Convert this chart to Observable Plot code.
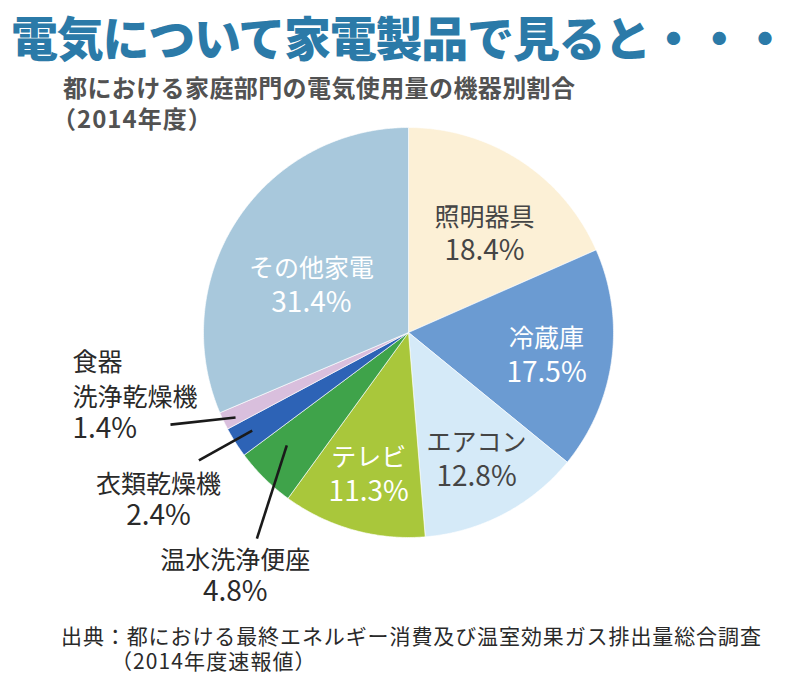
<!DOCTYPE html>
<html lang="ja">
<head>
<meta charset="utf-8">
<script src="https://cdn.jsdelivr.net/npm/d3@7"></script>
<script src="https://cdn.jsdelivr.net/npm/@observablehq/plot@0.6"></script>
<style>
  html, body { margin: 0; padding: 0; background: #ffffff; }
  #wrap { position: relative; width: 800px; height: 691px; overflow: hidden; font-family: "Noto Sans CJK JP", "Noto Sans", sans-serif; }
  .abs { position: absolute; white-space: nowrap; line-height: 1; }
  #title { left: 11px; top: 12px; font-size: 47px; font-weight: 900; color: #2b7aa8; letter-spacing: -1.25px; }
  #sub1 { left: 63px; top: 75px; font-size: 24px; font-weight: 700; color: #525252; letter-spacing: 0.4px; }
  #sub2 { left: 52px; top: 106px; font-size: 24px; font-weight: 700; color: #525252; letter-spacing: 1px; }
  #cap1 { left: 61px; top: 625px; font-size: 21px; font-weight: 400; color: #2a2a2a; letter-spacing: 0.9px; }
  #cap2 { left: 111px; top: 650px; font-size: 21px; font-weight: 400; color: #2a2a2a; letter-spacing: 1.1px; }
  #chart { position: absolute; left: 0; top: 120px; }
</style>
</head>
<body>
<div id="wrap">
  <div id="title" class="abs">電気について家電製品で見ると・・・</div>
  <div id="sub1" class="abs">都における家庭部門の電気使用量の機器別割合</div>
  <div id="sub2" class="abs">（2014年度）</div>
  <div id="chart"></div>
  <div id="cap1" class="abs">出典：都における最終エネルギー消費及び温室効果ガス排出量総合調査</div>
  <div id="cap2" class="abs">（2014年度速報値）</div>
</div>
<script>
// ---- data ----
const categories = ["照明器具", "冷蔵庫", "エアコン", "テレビ", "温水洗浄便座", "衣類乾燥機", "食器洗浄乾燥機", "その他家電"];
const shares = [18.4, 17.5, 12.8, 11.3, 4.8, 2.4, 1.4, 31.4];
const displayNames = ["照明器具", "冷蔵庫", "エアコン", "テレビ", "温水洗浄便座", "衣類乾燥機", "食器\n洗浄乾燥機", "その他家電"];
const sliceColors = ["#fcf0d6", "#6b9bd2", "#d5eaf8", "#a9c73b", "#3fa34a", "#2d63b6", "#d9bfdd", "#a8c8dc"];
const labelColors = ["#454545", "#ffffff", "#454545", "#ffffff", "#2a2a2a", "#2a2a2a", "#2a2a2a", "#ffffff"];

// ---- layout (polar offsets relative to each slice, in radius units / degrees) ----
const R = 205; // pixels per radius unit
const insideLayout = {
  "照明器具": {r: 0.605, da: 4.7},
  "冷蔵庫": {r: 0.683, da: 1.8},
  "エアコン": {r: 0.707, da: -0.3},
  "テレビ": {r: 0.724, da: -0.1},
  "その他家電": {r: 0.526, da: -7.7}
};
const calloutLayout = {
  "温水洗浄便座": {inR: 0.81, inDa: 2.5, outR: 1.248, outDa: -8.3, textR: 1.461, textDa: -9.3, anchor: "middle"},
  "衣類乾燥機": {inR: 0.90, inDa: 0.3, outR: 1.198, outDa: 1.0, textR: 1.469, textDa: -1.5, anchor: "middle"},
  "食器洗浄乾燥機": {inR: 0.94, inDa: -0.6, outR: 1.245, outDa: 4.4, textR: 1.669, textDa: 14.7, anchor: "start"}
};

const rows = categories.map((name, i) => ({name, value: shares[i], label: displayNames[i], pct: d3.format(".1f")(shares[i]) + "%", textColor: labelColors[i]}));
const arcs = d3.pie().sort(null).value(d => d.value)(rows);

const rad = deg => deg * Math.PI / 180;
const polar = (a, r) => ({x: r * Math.sin(a), y: r * Math.cos(a)});

// slice polygons
const slicePts = [];
for (const a of arcs) {
  slicePts.push({name: a.data.name, x: 0, y: 0});
  const n = Math.max(2, Math.ceil((a.endAngle - a.startAngle) / rad(0.5)));
  for (let k = 0; k <= n; k++) {
    const t = a.startAngle + (a.endAngle - a.startAngle) * k / n;
    slicePts.push({name: a.data.name, ...polar(t, 1)});
  }
  slicePts.push({name: a.data.name, x: 0, y: 0});
}

// text lines and leader lines
const textRows = [];
const leaders = [];
for (const a of arcs) {
  const d = a.data;
  const mid = (a.startAngle + a.endAngle) / 2;
  let center, anchor, gap;
  if (insideLayout[d.name]) {
    const L = insideLayout[d.name];
    center = polar(mid + rad(L.da), L.r);
    anchor = "middle"; gap = 34;
  } else {
    const L = calloutLayout[d.name];
    center = polar(mid + rad(L.textDa), L.textR);
    anchor = L.anchor; gap = 31;
    const p1 = polar(mid + rad(L.inDa), L.inR);
    const p2 = polar(mid + rad(L.outDa), L.outR);
    leaders.push({x1: p1.x, y1: p1.y, x2: p2.x, y2: p2.y});
  }
  const nameLines = d.label.split("\n");
  const lines = [];
  let off = 0;
  nameLines.forEach((t, j) => { if (j > 0) off += 35; lines.push({t, off, size: 25}); });
  off += gap;
  lines.push({t: d.pct, off, size: 28});
  const meanOff = d3.mean(lines, l => l.off);
  for (const l of lines) {
    textRows.push({x: center.x, y: center.y - (l.off - meanOff) / R, text: l.t, size: l.size, anchor, color: d.textColor});
  }
}

const W = 800, H = 490;
const cx = 408, cyTop = 212; // pie centre inside the svg, px
const chart = Plot.plot({
  width: W,
  height: H,
  margin: 0,
  style: {background: "transparent", fontFamily: "'Noto Sans CJK JP', sans-serif"},
  x: {domain: [-cx / R, (W - cx) / R], axis: null},
  y: {domain: [-(H - cyTop) / R, cyTop / R], axis: null},
  color: {domain: categories, range: sliceColors},
  marks: [
    Plot.line(slicePts, {x: "x", y: "y", z: "name", fill: "name", stroke: "#ffffff", strokeWidth: 0.8, strokeOpacity: 0.8, curve: "linear"}),
    Plot.link(leaders, {x1: "x1", y1: "y1", x2: "x2", y2: "y2", stroke: "#1a1a1a", strokeWidth: 2.6}),
    ...["start", "middle"].flatMap(anc => ["#ffffff", "#454545", "#2a2a2a"].map(col =>
      Plot.text(textRows.filter(r => r.anchor === anc && r.color === col), {
        x: "x", y: "y", text: "text", fontSize: "size", fill: col, textAnchor: anc, lineAnchor: "middle"
      })
    ))
  ]
});
document.getElementById("chart").appendChild(chart);
</script>
</body>
</html>
